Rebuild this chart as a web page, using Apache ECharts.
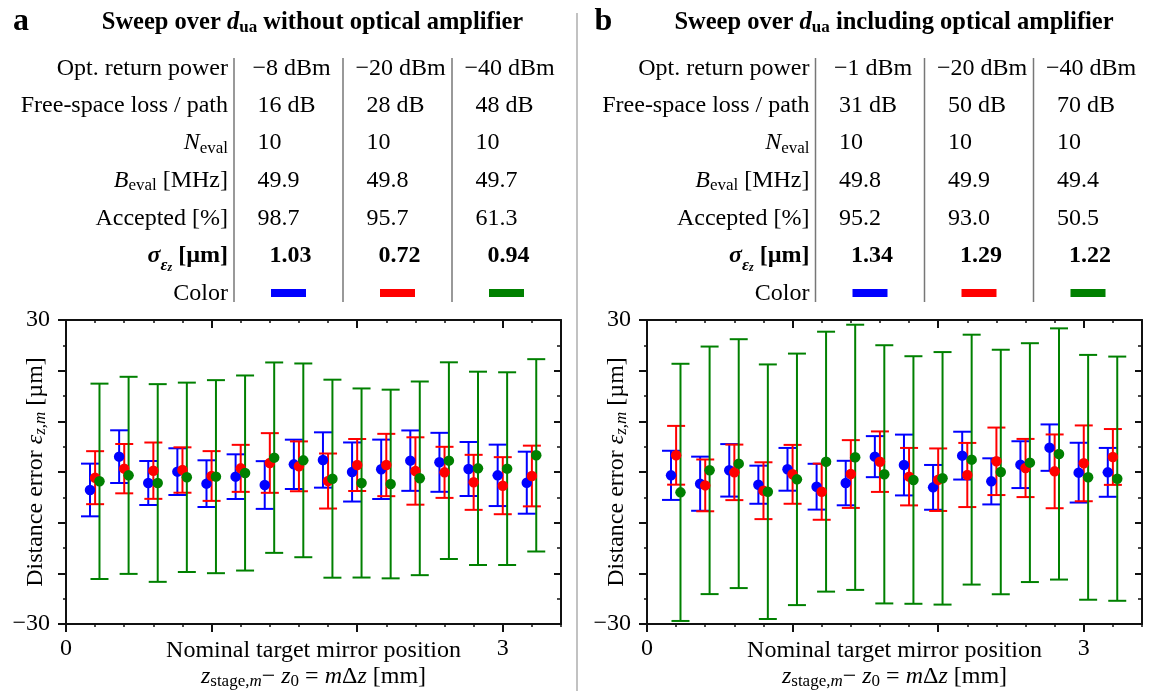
<!DOCTYPE html>
<html><head><meta charset="utf-8">
<script src="https://cdn.jsdelivr.net/npm/echarts@6/dist/echarts.min.js"></script>
<style>html,body{margin:0;padding:0;background:#fff}#c{width:1152px;height:691px}</style>
</head><body><div id="c"></div>
<script>
const F = 'Liberation Serif';
// nominal target positions m*Δz [mm]
const positions = [0.2,0.4,0.6,0.8,1.0,1.2,1.4,1.6,1.8,2.0,2.2,2.4,2.6,2.8,3.0,3.2];

// panel a (without optical amplifier)
const aBlueMean  = [-3.55,3.03,-2.17,0.07,-2.30,-0.92,-2.57,1.51,2.37,0.00,0.53,2.24,1.91,0.59,-0.66,-2.11];
const aBlueErr   = [5.20,5.20,4.34,4.61,4.61,4.41,4.71,4.87,5.46,5.83,5.86,5.96,5.82,5.33,6.06,6.12];
const aRedMean   = [-1.12,0.66,0.26,0.39,-0.79,0.72,1.78,1.12,-1.78,1.38,1.38,0.20,-0.07,-2.04,-2.70,-0.79];
const aRedErr    = [5.23,4.87,5.56,4.48,4.91,4.64,5.89,4.92,5.43,5.13,6.15,6.65,5.04,5.43,5.63,5.99];
const aGreenMean = [-1.84,-0.66,-2.17,-1.05,-0.92,-0.20,2.83,2.30,-1.32,-2.17,-2.37,-1.25,2.24,0.72,0.66,3.29];
const aGreenErr  = [19.28,19.45,19.51,18.69,19.05,19.25,18.79,19.12,19.54,18.66,18.62,19.11,19.41,19.08,19.02,18.98];
// panel b (including optical amplifier)
const bBlueMean  = [-0.66,-2.31,0.33,-2.51,0.53,-2.90,-2.18,3.03,1.38,-3.03,3.23,-1.85,1.45,4.81,-0.13,-0.07];
const bBlueErr   = [4.85,5.34,5.18,3.76,4.22,4.52,4.39,4.05,6.00,4.42,4.72,4.55,4.62,4.58,5.90,4.82];
const bRedMean   = [3.30,-2.64,-0.07,-3.69,-0.46,-3.89,-0.40,2.04,-0.92,-1.52,-0.59,2.11,0.79,0.13,1.71,2.97];
const bRedErr    = [5.80,5.11,5.48,5.61,5.81,5.54,6.69,5.97,5.67,6.17,6.33,6.66,5.74,7.28,7.48,5.51];
const bGreenMean = [-4.02,0.33,1.65,-3.89,-1.45,2.04,2.90,-0.46,-1.58,-1.25,2.44,0.00,1.85,3.56,-1.05,-1.32];
const bGreenErr  = [25.38,24.43,24.56,25.12,24.82,25.65,26.17,25.48,24.43,24.92,24.66,24.13,23.57,24.79,24.16,24.10];

// tables
const rowLabels = ['Opt. return power','Free-space loss / path','{i|N}{sub|eval}','{i|B}{sub|eval}{n| [MHz]}','Accepted [%]','{bi|σ}{s1|ε}{s2|z}{b| [µm]}','Color'];
const aPower = ['−8 dBm','−20 dBm','−40 dBm'];
const aLoss = ['16 dB','28 dB','48 dB'];
const aNeval = ['10','10','10'];
const aBeval = ['49.9','49.8','49.7'];
const aAccepted = ['98.7','95.7','61.3'];
const aSigma = ['1.03','0.72','0.94'];
const bPower = ['−1 dBm','−20 dBm','−40 dBm'];
const bLoss = ['31 dB','50 dB','70 dB'];
const bNeval = ['10','10','10'];
const bBeval = ['49.8','49.9','49.4'];
const bAccepted = ['95.2','93.0','50.5'];
const bSigma = ['1.34','1.29','1.22'];
const seriesColors = ['#0000ff','#ff0000','#008000'];
const panelLetters = ['a','b'];
const panelTitles = ['without optical amplifier','including optical amplifier'];
const xMajorTicks = [0,1,2,3];
const xLabelValues = [0,3];
const yLabelValues = [-30,30];

const chart = echarts.init(document.getElementById('c'), null, {renderer:'canvas'});

const dxOff = [-0.035, 0, 0.03];
const AX = '#111';
const gridLeft = [66, 647];

function fmtNum(v){ return v < 0 ? '−' + Math.abs(v) : String(v); }

const richAxis = {
  n:{fontFamily:F, fontSize:24, color:'#000', lineHeight:26},
  i:{fontFamily:F, fontSize:24, fontStyle:'italic', color:'#000', lineHeight:26},
  sub:{fontFamily:F, fontSize:17, color:'#000', lineHeight:14, verticalAlign:'bottom'},
  subi:{fontFamily:F, fontSize:17, fontStyle:'italic', color:'#000', lineHeight:14, verticalAlign:'bottom'}
};

const xAxes = [], yAxes = [], grids = [], series = [];
[0,1].forEach(g => {
  grids.push({left:gridLeft[g], top:320, width:495, height:304, show:false, containLabel:false, outerBoundsMode:'none'});
  const common = {gridIndex:g, type:'value', min:0, max:3.4, splitLine:{show:false}, nameMoveOverlap:false};
  xAxes.push(Object.assign({}, common, {position:'bottom', interval:0.2,
    axisLine:{show:true, onZero:false, lineStyle:{color:AX, width:2}},
    axisTick:{show:true, length:3, lineStyle:{color:AX, width:1.5}},
    axisLabel:{show:false}}));
  xAxes.push(Object.assign({}, common, {position:'bottom',
    axisLine:{show:false, onZero:false},
    axisTick:{show:true, customValues:xMajorTicks, length:8, lineStyle:{color:AX, width:2}},
    axisLabel:{show:true, customValues:xLabelValues, formatter:fmtNum, fontFamily:F, fontSize:24, color:'#000', margin:13},
    name:'{n|Nominal target mirror position}\n{i|z}{sub|stage,}{subi|m}{n|− }{i|z}{sub|0}{n| = }{i|m}{n|Δ}{i|z}{n| [mm]}',
    nameLocation:'middle', nameGap:14,
    nameTextStyle:{fontFamily:F, fontSize:24, color:'#000', lineHeight:26, rich:richAxis}}));
  xAxes.push(Object.assign({}, common, {position:'top', interval:0.2,
    axisLine:{show:true, onZero:false, lineStyle:{color:AX, width:2}},
    axisTick:{show:true, inside:true, length:3, lineStyle:{color:AX, width:1.5}},
    axisLabel:{show:false}}));
  xAxes.push(Object.assign({}, common, {position:'top',
    axisLine:{show:false, onZero:false},
    axisTick:{show:true, inside:true, customValues:xMajorTicks, length:8, lineStyle:{color:AX, width:2}},
    axisLabel:{show:false}}));

  const yc = {gridIndex:g, type:'value', min:-30, max:30, interval:10, splitLine:{show:false}, minorSplitLine:{show:false}, nameMoveOverlap:false};
  yAxes.push(Object.assign({}, yc, {position:'left',
    axisLine:{show:true, onZero:false, lineStyle:{color:AX, width:2}},
    axisTick:{show:true, length:8, lineStyle:{color:AX, width:2}},
    minorTick:{show:true, splitNumber:2, length:3, lineStyle:{color:AX, width:1.5}},
    axisLabel:{show:true, customValues:yLabelValues, formatter:fmtNum, showMinLabel:true, showMaxLabel:true, fontFamily:F, fontSize:24, color:'#000', margin:16},
    name:'{n|Distance error }{i|ε}{subi|z,m}{n| [µm]}', nameLocation:'middle', nameGap:17, nameRotate:90,
    nameTextStyle:{fontFamily:F, fontSize:24, color:'#000', lineHeight:24, rich:richAxis}}));
  yAxes.push(Object.assign({}, yc, {position:'right',
    axisLine:{show:true, onZero:false, lineStyle:{color:AX, width:2}},
    axisTick:{show:true, inside:true, length:7, lineStyle:{color:AX, width:2}},
    minorTick:{show:true, splitNumber:2, length:4, lineStyle:{color:AX, width:1.5}},
    axisLabel:{show:false}}));
});

function errRender(color){
  return function(params, api){
    const x = api.value(0), lo = api.value(1), hi = api.value(2);
    const t = api.coord([x, hi]), b = api.coord([x, lo]);
    const hw = 9, st = {stroke:color, lineWidth:2};
    return {type:'group', children:[
      {type:'line', shape:{x1:t[0], y1:t[1], x2:b[0], y2:b[1]}, style:st},
      {type:'line', shape:{x1:t[0]-hw, y1:t[1], x2:t[0]+hw, y2:t[1]}, style:st},
      {type:'line', shape:{x1:b[0]-hw, y1:b[1], x2:b[0]+hw, y2:b[1]}, style:st}
    ]};
  };
}

const panelData = [
  [[aBlueMean,aBlueErr],[aRedMean,aRedErr],[aGreenMean,aGreenErr]],
  [[bBlueMean,bBlueErr],[bRedMean,bRedErr],[bGreenMean,bGreenErr]]
];
panelData.forEach((sets, g) => {
  sets.forEach(([means, errs], k) => {
    const col = seriesColors[k];
    series.push({type:'custom', xAxisIndex:g*4, yAxisIndex:g*2, renderItem:errRender(col),
      encode:{x:0, y:[1,2]}, clip:false,
      data: positions.map((p,i)=>[p+dxOff[k], means[i]-errs[i], means[i]+errs[i]])});
    series.push({type:'scatter', xAxisIndex:g*4, yAxisIndex:g*2, symbol:'circle', symbolSize:10.5,
      itemStyle:{color:col, opacity:1}, clip:false,
      data: positions.map((p,i)=>[p+dxOff[k], means[i]])});
  });
});

// graphic: titles + tables
const graphics = [];
const richRow = {
  n:{fontFamily:F, fontSize:24, fill:'#000', lineHeight:28},
  i:{fontFamily:F, fontSize:24, fontStyle:'italic', fill:'#000', lineHeight:28},
  sub:{fontFamily:F, fontSize:17, fill:'#000', lineHeight:14, verticalAlign:'bottom'},
  bi:{fontFamily:F, fontSize:24, fontStyle:'italic', fontWeight:'bold', fill:'#000', lineHeight:36},
  s1:{fontFamily:F, fontSize:17, fontStyle:'italic', fontWeight:'bold', fill:'#000', lineHeight:24, verticalAlign:'bottom'},
  s2:{fontFamily:F, fontSize:12, fontStyle:'italic', fontWeight:'bold', fill:'#000', lineHeight:10, verticalAlign:'bottom'},
  b:{fontFamily:F, fontSize:24, fontWeight:'bold', fill:'#000', lineHeight:36}
};
const richTitle = {
  b:{fontFamily:F, fontSize:24.5, fontWeight:'bold', fill:'#000', lineHeight:28},
  bi:{fontFamily:F, fontSize:24.5, fontWeight:'bold', fontStyle:'italic', fill:'#000', lineHeight:28},
  bs:{fontFamily:F, fontSize:17, fontWeight:'bold', fill:'#000', lineHeight:14, verticalAlign:'bottom'}
};
const rowY = [68.5, 106, 143, 180.5, 218.5, 256, 293.5];
const tables = [
  [aPower,aLoss,aNeval,aBeval,aAccepted,aSigma],
  [bPower,bLoss,bNeval,bBeval,bAccepted,bSigma]
];
function txt(x, y, text, extra){
  return {type:'text', x:x, y:y, silent:true, style:Object.assign({text:text, fill:'#000', fontFamily:F, fontSize:24, verticalAlign:'middle'}, extra)};
}
[0,1].forEach(p => {
  const sx = p*581.5;
  graphics.push(txt(13+sx, 21.5, panelLetters[p], {fontSize:32, fontWeight:'bold', align:'left'}));
  graphics.push(txt(312.5+sx, 22.4, '{b|Sweep over }{bi|d}{bs|ua}{b| '+panelTitles[p]+'}', {align:'center', rich:richTitle}));
  rowLabels.forEach((lab, r) => {
    graphics.push(txt(228+sx, rowY[r], lab, {align:'right', rich:richRow}));
  });
  const dividers = [234, 343, 452];
  dividers.forEach(dx => graphics.push({type:'line', silent:true,
    shape:{x1:dx+sx, y1:58, x2:dx+sx, y2:302}, style:{stroke:'#777', lineWidth:1.5}}));
  const centers = [288.5, 397.5, 506.5];
  const t = tables[p];
  centers.forEach((c0, j) => {
    const c = c0 + sx;
    graphics.push(txt(c+3, rowY[0], t[0][j], {align:'center'}));
    for (let r = 1; r <= 4; r++) graphics.push(txt(c-31, rowY[r], t[r][j], {align:'left'}));
    graphics.push(txt(c+2, rowY[5], t[5][j], {align:'center', fontWeight:'bold'}));
    graphics.push({type:'rect', silent:true, shape:{x:c-17.5, y:289, width:35, height:8}, style:{fill:seriesColors[j]}});
  });
});
graphics.push({type:'line', silent:true, shape:{x1:577, y1:13, x2:577, y2:691}, style:{stroke:'#999', lineWidth:1.2}});

chart.setOption({
  animation:false,
  backgroundColor:'#fff',
  grid:grids, xAxis:xAxes, yAxis:yAxes, series:series,
  graphic:{elements:graphics}
});
</script></body></html>
